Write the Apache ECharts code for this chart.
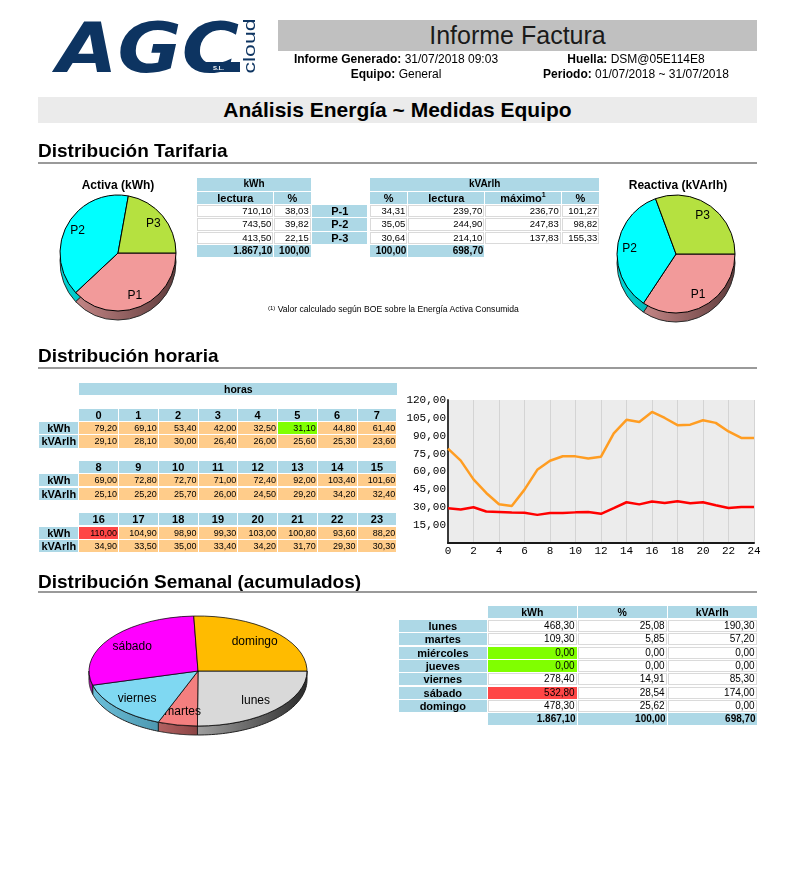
<!DOCTYPE html>
<html><head><meta charset="utf-8">
<script src="https://cdn.jsdelivr.net/npm/echarts@6/dist/echarts.min.js"></script>
<style>
html,body{margin:0;padding:0;background:#fff;}
body{width:794px;height:881px;position:relative;overflow:hidden;font-family:'Liberation Sans',Arial,sans-serif;color:#000;}
#chart{position:absolute;left:0;top:0;width:794px;height:881px;}
#ov{position:absolute;left:0;top:0;width:794px;height:881px;pointer-events:none;}
.c{position:absolute;box-sizing:border-box;white-space:nowrap;overflow:hidden;}
.t{position:absolute;white-space:nowrap;}
.sec{position:absolute;left:38px;font-size:19px;font-weight:bold;line-height:22px;}
.rule{position:absolute;left:38px;width:719px;height:2px;background:#9a9a9a;}
sup{font-size:7px;line-height:1;vertical-align:top;position:relative;top:-1px;}
</style></head>
<body>
<div id="chart"></div>
<div id="ov">
  <svg class="t" style="left:0;top:0" width="270" height="90">
    <text x="57" y="72" font-family="DejaVu Sans" font-weight="bold" font-style="italic" font-size="70" fill="#0d3461" textLength="182" lengthAdjust="spacingAndGlyphs">AGC</text>
    <rect x="204" y="62" width="36" height="10" fill="#0d3461"/>
    <text x="213" y="70" font-family="Liberation Sans" font-weight="bold" font-size="6" fill="#ffffff">S.L.</text>
    <text x="249" y="46" font-family="Liberation Sans" font-size="17" fill="#0d3461" text-anchor="middle" dominant-baseline="central" textLength="55" lengthAdjust="spacingAndGlyphs" transform="rotate(-90 249 46)">cloud</text>
  </svg>
  <div class="t" style="left:278px;top:20px;width:479px;height:31px;background:#c0c0c0;text-align:center;font-size:25px;line-height:31px;color:#1a1a1a;">Informe Factura</div>
  <div class="t" style="left:278px;top:52px;width:236px;text-align:center;font-size:12px;line-height:14px;"><b>Informe Generado:</b> 31/07/2018 09:03</div>
  <div class="t" style="left:278px;top:67px;width:236px;text-align:center;font-size:12px;line-height:14px;"><b>Equipo:</b> General</div>
  <div class="t" style="left:518px;top:52px;width:236px;text-align:center;font-size:12px;line-height:14px;"><b>Huella:</b> DSM@05E114E8</div>
  <div class="t" style="left:518px;top:67px;width:236px;text-align:center;font-size:12px;line-height:14px;"><b>Periodo:</b> 01/07/2018 ~ 31/07/2018</div>
  <div class="t" style="left:38px;top:97px;width:719px;height:26px;background:#ebebeb;text-align:center;font-size:21px;font-weight:bold;line-height:26px;">Análisis Energía ~ Medidas Equipo</div>

  <div class="sec" style="top:139.5px;">Distribución Tarifaria</div>
  <div class="rule" style="top:162px;"></div>
  <div class="t" style="left:58px;top:178px;width:120px;text-align:center;font-size:12px;font-weight:bold;line-height:14px;">Activa (kWh)</div>
  <div class="t" style="left:618px;top:178px;width:120px;text-align:center;font-size:12px;font-weight:bold;line-height:14px;">Reactiva (kVArlh)</div>
  <div class="t" style="left:268px;top:304px;font-size:8.6px;line-height:11px;"><span style="font-size:6px;vertical-align:top;line-height:8px;">(1)</span> Valor calculado según BOE sobre la Energía Activa Consumida</div>

  <div class="sec" style="top:345.4px;">Distribución horaria</div>
  <div class="rule" style="top:367px;"></div>

  <div class="sec" style="top:570.6px;">Distribución Semanal (acumulados)</div>
  <div class="rule" style="top:591px;"></div>
</div>
<script>
// ---------- DATA ----------
const periods = ['P-1','P-2','P-3'];
const pieNames = ['P1','P2','P3'];
const kwhLectura = [710.10, 743.50, 413.50];
const kwhPct = [38.03, 39.82, 22.15];
const kvarPct = [34.31, 35.05, 30.64];
const kvarLectura = [239.70, 244.90, 214.10];
const kvarMaximo = [236.70, 247.83, 137.83];
const kvarMaxPct = [101.27, 98.82, 155.33];
const kwhTotal = 1867.10, kwhPctTotal = 100.00, kvarPctTotal = 100.00, kvarTotal = 698.70;

const hours = [0,1,2,3,4,5,6,7,8,9,10,11,12,13,14,15,16,17,18,19,20,21,22,23];
const hourKwh = [79.20,69.10,53.40,42.00,32.50,31.10,44.80,61.40,69.00,72.80,72.70,71.00,72.40,92.00,103.40,101.60,110.00,104.90,98.90,99.30,103.00,100.80,93.60,88.20];
const hourKvar = [29.10,28.10,30.00,26.40,26.00,25.60,25.30,23.60,25.10,25.20,25.70,26.00,24.50,29.20,34.20,32.40,34.90,33.50,35.00,33.40,34.20,31.70,29.30,30.30];
const lineX = [0,1,2,3,4,5,6,7,8,9,10,11,12,13,14,15,16,17,18,19,20,21,22,23,24];
const lineKwh = [79.2,69.1,53.4,42.0,32.5,31.1,44.8,61.4,69.0,72.8,72.7,71.0,72.4,92.0,103.4,101.6,110.0,104.9,98.9,99.3,103.0,100.8,93.6,88.2,88.2];
const lineKvar = [29.1,28.1,30.0,26.4,26.0,25.6,25.3,23.6,25.1,25.2,25.7,26.0,24.5,29.2,34.2,32.4,34.9,33.5,35.0,33.4,34.2,31.7,29.3,30.3,30.3];
const yTicks = [0,15,30,45,60,75,90,105,120];

const days = ['lunes','martes','miércoles','jueves','viernes','sábado','domingo'];
const weekKwh = [468.30,109.30,0.00,0.00,278.40,532.80,478.30];
const weekPct = [25.08,5.85,0.00,0.00,14.91,28.54,25.62];
const weekKvar = [190.30,57.20,0.00,0.00,85.30,174.00,0.00];
const weekTotals = [1867.10,100.00,698.70];

// ---------- STYLES ----------
const BLUE='#add8e6', ORANGE='#ffcc8a', GREEN='#80ff00', RED='#ff4646';
const FONT='Liberation Sans';
const pieColors=['#f29a9a','#00ffff','#b5e140'];
const pieWalls=[['#c48686','#5e3a3a'],['#00d8d8','#009c9c'],['#92b832','#5f7a1e']];
const weekColors=['#d9d9d9','#f47f7f','#c8c8c8','#c8c8c8','#7fd8f2','#ff00ff','#ffbb00'];
const weekWalls=[['#a0a0a0','#2a2a2a'],['#b46262','#8a4444'],['#999','#666'],['#999','#666'],['#6cc0da','#4d98b0'],['#c400c4','#a000a0'],['#c08c00','#8a6400']];

function fmt(v){const s=v.toFixed(2).split('.');return s[0].replace(/\B(?=(\d{3})+(?!\d))/g,'.')+','+s[1];}

const ov=document.getElementById('ov');
function cell(x,y,w,h,html,o){
  o=o||{};
  const d=document.createElement('div');d.className='c';
  d.style.left=x+'px';d.style.top=y+'px';d.style.width=w+'px';d.style.height=h+'px';
  d.style.lineHeight=(o.border?h-2:h)+'px';
  d.style.background=o.bg||'transparent';
  d.style.textAlign=o.align||'center';
  d.style.fontSize=(o.fs||10)+'px';
  d.style.fontWeight=o.b?'bold':'normal';
  d.style.padding='0 '+(o.pad==null?1:o.pad)+'px';
  if(o.border)d.style.border=o.border;
  d.innerHTML=html;ov.appendChild(d);return d;
}

// ---------- Tarifaria tables ----------
(function(){
  const C={kL:[197.3,76],kP:[274.3,36.4],P:[312.3,55],vP:[370,37.3],vL:[408.3,76],vM:[485.3,75.4],vMP:[561.7,37.6]};
  const ty=i=>178.3+i*13.35, h=12.3;
  const hb={bg:BLUE,b:true,fs:10};
  cell(197.3,ty(0),113.4,h,'kWh',hb);
  cell(370,ty(0),229.3,h,'kVArlh',hb);
  const sh={bg:BLUE,b:true,fs:11};
  cell(C.kL[0],ty(1),C.kL[1],h,'lectura',sh);
  cell(C.kP[0],ty(1),C.kP[1],h,'%',sh);
  cell(C.vP[0],ty(1),C.vP[1],h,'%',sh);
  cell(C.vL[0],ty(1),C.vL[1],h,'lectura',sh);
  cell(C.vM[0],ty(1),C.vM[1],h,'máximo<sup>1</sup>',sh);
  cell(C.vMP[0],ty(1),C.vMP[1],h,'%',sh);
  const dc={bg:'#fff',align:'right',fs:9.5,border:'1px solid #dadada'};
  periods.forEach((p,i)=>{
    const y=ty(2+i);
    cell(C.kL[0],y,C.kL[1],h,fmt(kwhLectura[i]),dc);
    cell(C.kP[0],y,C.kP[1],h,fmt(kwhPct[i]),dc);
    cell(C.P[0],y,C.P[1],h,p,{bg:BLUE,b:true,fs:11});
    cell(C.vP[0],y,C.vP[1],h,fmt(kvarPct[i]),dc);
    cell(C.vL[0],y,C.vL[1],h,fmt(kvarLectura[i]),dc);
    cell(C.vM[0],y,C.vM[1],h,fmt(kvarMaximo[i]),dc);
    cell(C.vMP[0],y,C.vMP[1],h,fmt(kvarMaxPct[i]),dc);
  });
  const tc={bg:BLUE,b:true,fs:10,align:'right'};
  cell(C.kL[0],ty(5),C.kL[1],h,fmt(kwhTotal),tc);
  cell(C.kP[0],ty(5),C.kP[1],h,fmt(kwhPctTotal),tc);
  cell(C.vP[0],ty(5),C.vP[1],h,fmt(kvarPctTotal),tc);
  cell(C.vL[0],ty(5),C.vL[1],h,fmt(kvarTotal),tc);
})();

// ---------- Horaria table ----------
(function(){
  cell(79.3,383.3,318,12,'horas',{bg:BLUE,b:true,fs:10.5});
  const tops=[408.8,461,513.2], h=12.2, p=13.3;
  const mn=Math.min(...hourKwh), mx=Math.max(...hourKwh);
  tops.forEach((t,bi)=>{
    cell(39.3,t+p,39,h,'kWh',{bg:BLUE,b:true,fs:11});
    cell(39.3,t+2*p,39,h,'kVArlh',{bg:BLUE,b:true,fs:11});
    for(let j=0;j<8;j++){
      const k=bi*8+j, x=79.3+j*39.75, w=38.75;
      cell(x,t,w,h,String(hours[k]),{bg:BLUE,b:true,fs:11});
      const v=hourKwh[k];
      cell(x,t+p,w,h,fmt(v),{bg:v===mn?GREEN:(v===mx?RED:ORANGE),align:'right',fs:9});
      cell(x,t+2*p,w,h,fmt(hourKvar[k]),{bg:ORANGE,align:'right',fs:9});
    }
  });
})();

// ---------- Semanal table ----------
(function(){
  const C=[[399,87.7],[488,88.7],[577.7,89],[667.7,89]];
  cell(C[1][0],605.7,C[1][1],12.5,'kWh',{bg:BLUE,b:true,fs:10.5});
  cell(C[2][0],605.7,C[2][1],12.5,'%',{bg:BLUE,b:true,fs:10.5});
  cell(C[3][0],605.7,C[3][1],12.5,'kVArlh',{bg:BLUE,b:true,fs:10.5});
  const mn=Math.min(...weekKwh), mx=Math.max(...weekKwh);
  days.forEach((d,i)=>{
    const y=620+i*13.33, h=12;
    cell(C[0][0],y,C[0][1],h,d,{bg:BLUE,b:true,fs:11});
    const v=weekKwh[i];
    const bg=v===mn?GREEN:(v===mx?RED:'#fff');
    cell(C[1][0],y,C[1][1],h,fmt(v),{bg:bg,align:'right',fs:10,border:'1px solid '+(bg==='#fff'?'#dadada':bg)});
    cell(C[2][0],y,C[2][1],h,fmt(weekPct[i]),{bg:'#fff',align:'right',fs:10,border:'1px solid #dadada'});
    cell(C[3][0],y,C[3][1],h,fmt(weekKvar[i]),{bg:'#fff',align:'right',fs:10,border:'1px solid #dadada'});
  });
  const y=620+7*13.33;
  weekTotals.forEach((v,j)=>cell(C[j+1][0],y,C[j+1][1],12,fmt(v),{bg:BLUE,b:true,fs:10,align:'right'}));
})();

// ---------- CHARTS ----------
const chart=echarts.init(document.getElementById('chart'),null,{width:794,height:881});
function grad(c){return new echarts.graphic.LinearGradient(0,0,1,0,[{offset:0,color:c[0]},{offset:1,color:c[1]}]);}
function pieSet(cx,cy,r,values){
  const base={type:'pie',startAngle:0,clockwise:true,silent:true,animation:false,labelLine:{show:false},avoidLabelOverlap:false,emphasis:{disabled:true}};
  return [
    Object.assign({},base,{z:1,center:[cx,cy+9],radius:r,label:{show:false},
      itemStyle:{borderColor:'#2a2a2a',borderWidth:1},
      data:values.map((v,i)=>({name:pieNames[i],value:v,itemStyle:{color:grad(pieWalls[i])}}))}),
    Object.assign({},base,{z:2,center:[cx,cy],radius:r,label:{show:false},
      itemStyle:{borderColor:'#000',borderWidth:1},
      data:values.map((v,i)=>({name:pieNames[i],value:v,itemStyle:{color:pieColors[i]}}))}),
    Object.assign({},base,{z:3,center:[cx,cy],radius:[r*0.48,r],
      itemStyle:{color:'rgba(0,0,0,0)',borderWidth:0},
      label:{show:true,position:'inside',formatter:'{b}',fontSize:12,fontFamily:FONT,color:'#000'},
      data:values.map((v,i)=>({name:pieNames[i],value:v}))})
  ];
}
const WP={cx:198,cy:671,a:109,b:55,t:9};
const weekSum=weekKwh.reduce((s,v)=>s+v,0);
const weekStart=[];(function(){let acc=0;weekKwh.forEach(v=>{weekStart.push(acc/weekSum*Math.PI*2);acc+=v;});})();
function weekAngles(i){const s=weekStart[i];return [s,s+weekKwh[i]/weekSum*Math.PI*2];}

const option={
  animation:false,
  grid:{left:448,top:400,width:306,height:143,show:true,backgroundColor:'#ececec',borderWidth:0},
  xAxis:{type:'value',min:0,max:24,interval:2,
    axisLine:{show:true,onZero:false,lineStyle:{color:'#1a1a1a',width:2}},
    axisTick:{show:false},
    axisLabel:{fontFamily:'Liberation Mono',fontSize:11,color:'#000',margin:3},
    splitLine:{show:true,lineStyle:{color:'#d4d4d4',width:1}}},
  yAxis:{type:'value',min:yTicks[0],max:yTicks[yTicks.length-1],interval:yTicks[1]-yTicks[0],
    axisLine:{show:true,lineStyle:{color:'#3a3a3a',width:2}},
    axisTick:{show:false},splitLine:{show:false},
    axisLabel:{fontFamily:'Liberation Mono',fontSize:11,color:'#000',margin:2,formatter:v=>v===0?'':fmt(v)}},
  series:[
    {type:'line',data:lineX.map((x,i)=>[x,lineKwh[i]]),showSymbol:false,symbol:'none',lineStyle:{color:'#ff9d22',width:2.5},itemStyle:{color:'#ff9d22'},silent:true},
    {type:'line',data:lineX.map((x,i)=>[x,lineKvar[i]]),showSymbol:false,symbol:'none',lineStyle:{color:'#ff0000',width:2.5},itemStyle:{color:'#ff0000'},silent:true},
    ...pieSet(118,253,58,kwhLectura),
    ...pieSet(676,254,59,kvarLectura),
    {type:'custom',coordinateSystem:'none',silent:true,z:1,animation:false,
      data:weekKwh.map((v,i)=>[i,v]),
      renderItem:function(params,api){
        const i=params.dataIndex;const [s,e]=weekAngles(i);
        const a0=Math.max(s,0),a1=Math.min(e,Math.PI);
        if(weekKwh[i]<=0||a1<=a0)return null;
        const pts=[],n=48;
        for(let k=0;k<=n;k++){const th=a0+(a1-a0)*k/n;pts.push([WP.cx+WP.a*Math.cos(th),WP.cy+WP.b*Math.sin(th)]);}
        for(let k=n;k>=0;k--){const th=a0+(a1-a0)*k/n;pts.push([WP.cx+WP.a*Math.cos(th),WP.cy+WP.t+WP.b*Math.sin(th)]);}
        return {type:'polygon',shape:{points:pts},style:{fill:grad(weekWalls[i]),stroke:'#222',lineWidth:1}};
      }},
    {type:'custom',coordinateSystem:'none',silent:true,z:2,animation:false,
      data:weekKwh.map((v,i)=>[i,v]),
      renderItem:function(params,api){
        const i=params.dataIndex;if(weekKwh[i]<=0)return null;
        const [s,e]=weekAngles(i);const m=(s+e)/2;
        return {type:'group',children:[
          {type:'sector',x:WP.cx,y:WP.cy,scaleY:WP.b/WP.a,
            shape:{cx:0,cy:0,r:WP.a,r0:0,startAngle:s,endAngle:e,clockwise:true},
            style:{fill:weekColors[i],stroke:'#000',lineWidth:1,strokeNoScale:true}},
          {type:'text',x:WP.cx+0.75*WP.a*Math.cos(m),y:WP.cy+0.75*WP.b*Math.sin(m),
            style:{text:days[i],fill:'#000',fontSize:12,fontFamily:FONT,align:'center',verticalAlign:'middle'}}
        ]};
      }}
  ]
};
chart.setOption(option);
</script>
</body></html>
